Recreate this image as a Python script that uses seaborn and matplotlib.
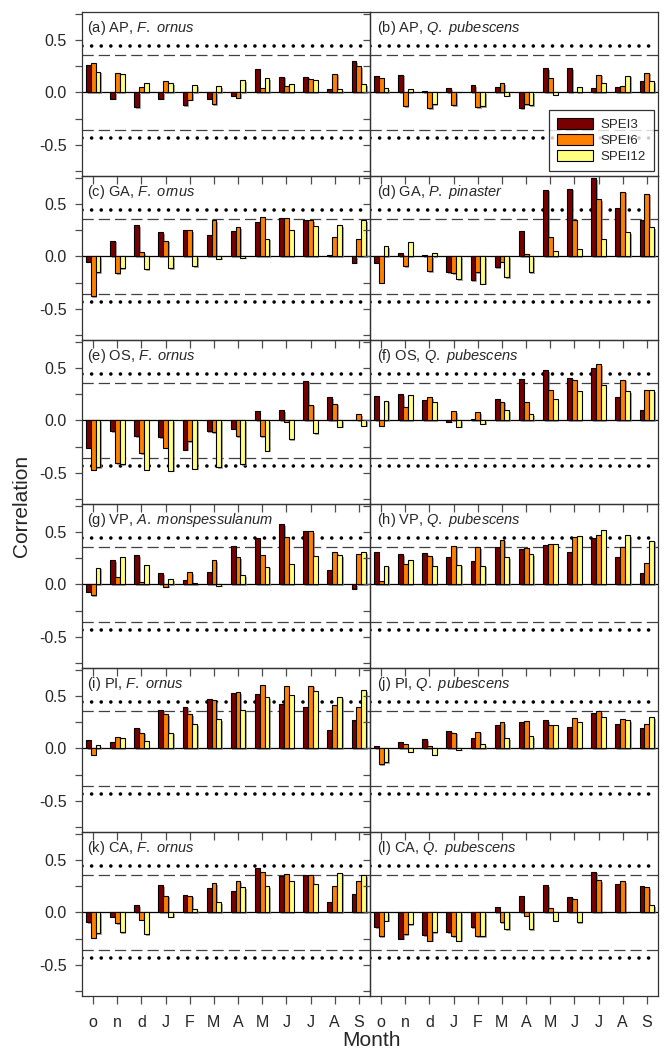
import matplotlib
matplotlib.use('Agg')
import matplotlib.pyplot as plt
import matplotlib.patheffects as pe
from matplotlib.patches import Patch
import seaborn as sns
import pandas as pd

# month order of the hydrological year, previous oct -> current sep
months = ['o', 'n', 'd', 'J', 'F', 'M', 'A', 'M', 'J', 'J', 'A', 'S']
month_keys = ['Oct', 'Nov', 'Dec', 'Jan', 'Feb', 'Mar', 'Apr', 'May', 'Jun', 'Jul', 'Aug', 'Sep']
indices = ['SPEI3', 'SPEI6', 'SPEI12']
colours = ['#7a0000', '#ff8000', '#ffff80']

sites = ['AP', 'AP', 'GA', 'GA', 'OS', 'OS', 'VP', 'VP', 'PI', 'PI', 'CA', 'CA']
species = ['F. ornus', 'Q. pubescens', 'F. ornus', 'P. pinaster', 'F. ornus', 'Q. pubescens',
           'A. monspessulanum', 'Q. pubescens', 'F. ornus', 'Q. pubescens', 'F. ornus', 'Q. pubescens']

a_spei3 = [0.26, -0.06, -0.14, -0.06, -0.12, -0.06, -0.03, 0.22, 0.15, 0.15, 0.03, 0.30]
a_spei6 = [0.28, 0.19, 0.05, 0.11, -0.07, -0.11, -0.05, 0.04, 0.06, 0.13, 0.18, 0.25]
a_spei12 = [0.20, 0.18, 0.09, 0.09, 0.07, 0.06, 0.12, 0.14, 0.08, 0.12, 0.03, 0.08]

b_spei3 = [0.16, 0.17, 0.01, 0.04, 0.07, 0.05, -0.15, 0.23, 0.23, 0.04, 0.05, 0.11]
b_spei6 = [0.14, -0.13, -0.15, -0.12, -0.14, 0.09, -0.11, 0.14, 0.00, 0.17, 0.06, 0.19]
b_spei12 = [0.04, 0.03, -0.11, 0.00, -0.13, -0.03, -0.12, -0.02, 0.05, 0.09, 0.16, 0.11]

c_spei3 = [-0.05, 0.15, 0.30, 0.23, 0.25, 0.21, 0.24, 0.33, 0.37, 0.35, 0.01, -0.06]
c_spei6 = [-0.38, -0.16, 0.04, 0.15, 0.25, 0.35, 0.28, 0.38, 0.37, 0.35, 0.19, 0.17]
c_spei12 = [-0.15, -0.11, -0.12, -0.11, -0.09, -0.02, -0.01, 0.17, 0.25, 0.29, 0.30, 0.35]

d_spei3 = [-0.06, 0.03, 0.01, -0.15, -0.23, -0.10, 0.24, 0.64, 0.65, 0.75, 0.46, 0.35]
d_spei6 = [-0.25, -0.09, -0.14, -0.16, -0.15, -0.05, 0.02, 0.19, 0.35, 0.55, 0.62, 0.60]
d_spei12 = [0.10, 0.14, 0.03, -0.22, -0.26, -0.20, -0.15, 0.05, 0.07, 0.17, 0.23, 0.28]

e_spei3 = [-0.26, -0.10, -0.15, -0.16, -0.28, -0.10, -0.08, 0.09, 0.10, 0.38, 0.22, 0.00]
e_spei6 = [-0.47, -0.41, -0.31, -0.26, -0.20, -0.11, -0.15, -0.15, -0.01, 0.15, 0.16, 0.06]
e_spei12 = [-0.45, -0.42, -0.47, -0.48, -0.46, -0.45, -0.42, -0.29, -0.18, -0.12, -0.06, -0.05]

f_spei3 = [0.23, 0.25, 0.20, -0.01, 0.01, 0.21, 0.40, 0.48, 0.41, 0.50, 0.22, 0.10]
f_spei6 = [-0.05, 0.13, 0.22, 0.09, 0.08, 0.18, 0.18, 0.29, 0.39, 0.54, 0.39, 0.29]
f_spei12 = [0.19, 0.24, 0.18, -0.06, -0.03, 0.10, 0.06, 0.21, 0.28, 0.34, 0.28, 0.29]

g_spei3 = [-0.07, 0.23, 0.28, 0.11, 0.04, 0.12, 0.37, 0.44, 0.58, 0.51, 0.14, -0.04]
g_spei6 = [-0.10, 0.07, 0.02, -0.02, 0.12, 0.23, 0.26, 0.28, 0.45, 0.51, 0.31, 0.29]
g_spei12 = [0.16, 0.26, 0.19, 0.05, 0.01, -0.01, 0.09, 0.17, 0.20, 0.27, 0.28, 0.31]

h_spei3 = [0.31, 0.29, 0.30, 0.26, 0.22, 0.36, 0.34, 0.38, 0.31, 0.44, 0.26, 0.11]
h_spei6 = [0.03, 0.20, 0.27, 0.37, 0.36, 0.43, 0.35, 0.39, 0.45, 0.47, 0.36, 0.21]
h_spei12 = [0.18, 0.23, 0.18, 0.19, 0.18, 0.26, 0.29, 0.39, 0.46, 0.52, 0.47, 0.42]

i_spei3 = [0.08, 0.06, 0.20, 0.37, 0.40, 0.47, 0.53, 0.52, 0.43, 0.40, 0.18, 0.27]
i_spei6 = [-0.06, 0.11, 0.15, 0.33, 0.33, 0.46, 0.54, 0.61, 0.60, 0.60, 0.42, 0.40]
i_spei12 = [0.03, 0.10, 0.07, 0.15, 0.23, 0.28, 0.37, 0.49, 0.51, 0.55, 0.49, 0.56]

j_spei3 = [0.02, 0.06, 0.09, 0.17, 0.10, 0.22, 0.25, 0.27, 0.21, 0.34, 0.23, 0.20]
j_spei6 = [-0.15, 0.04, 0.02, 0.15, 0.16, 0.25, 0.26, 0.22, 0.29, 0.36, 0.28, 0.23]
j_spei12 = [-0.13, -0.03, -0.06, -0.01, 0.04, 0.10, 0.12, 0.22, 0.25, 0.30, 0.27, 0.30]

k_spei3 = [-0.09, -0.04, 0.07, 0.26, 0.17, 0.23, 0.21, 0.43, 0.35, 0.36, 0.10, 0.18]
k_spei6 = [-0.24, -0.10, -0.07, 0.16, 0.16, 0.28, 0.30, 0.39, 0.37, 0.36, 0.25, 0.30]
k_spei12 = [-0.20, -0.19, -0.21, -0.04, 0.03, 0.10, 0.24, 0.25, 0.30, 0.27, 0.38, 0.36]

l_spei3 = [-0.14, -0.25, -0.22, -0.19, -0.14, 0.05, 0.16, 0.26, 0.15, 0.39, 0.27, 0.25]
l_spei6 = [-0.23, -0.21, -0.27, -0.23, -0.23, -0.09, -0.03, 0.04, 0.13, 0.31, 0.30, 0.24]
l_spei12 = [-0.08, -0.11, -0.19, -0.27, -0.23, -0.16, -0.16, -0.08, -0.09, 0.00, 0.00, 0.07]

panel_data = [
    (a_spei3, a_spei6, a_spei12), (b_spei3, b_spei6, b_spei12),
    (c_spei3, c_spei6, c_spei12), (d_spei3, d_spei6, d_spei12),
    (e_spei3, e_spei6, e_spei12), (f_spei3, f_spei6, f_spei12),
    (g_spei3, g_spei6, g_spei12), (h_spei3, h_spei6, h_spei12),
    (i_spei3, i_spei6, i_spei12), (j_spei3, j_spei6, j_spei12),
    (k_spei3, k_spei6, k_spei12), (l_spei3, l_spei6, l_spei12),
]

# significance thresholds
sig_95 = 0.36
sig_99 = 0.44

sns.set_style('ticks')
plt.rcParams['font.family'] = ['Liberation Sans', 'DejaVu Sans']
plt.rcParams['mathtext.fontset'] = 'custom'
plt.rcParams['mathtext.rm'] = 'Liberation Sans'
plt.rcParams['mathtext.it'] = 'Liberation Sans:italic'
plt.rcParams['axes.unicode_minus'] = False

fig, axes = plt.subplots(6, 2, figsize=(6.65, 10.55), dpi=100, sharex=True, sharey=True)
fig.subplots_adjust(left=0.1233, right=0.9895, top=0.9886, bottom=0.0559, hspace=0, wspace=0)

shadow = [pe.SimplePatchShadow(offset=(1.2, -1.2), shadow_rgbFace='0.5', alpha=0.7), pe.Normal()]

for n, ax in enumerate(axes.flat):
    s3, s6, s12 = panel_data[n]
    df = pd.DataFrame({
        'month': month_keys * 3,
        'index': [indices[0]] * 12 + [indices[1]] * 12 + [indices[2]] * 12,
        'value': s3 + s6 + s12,
    })
    ax.patch.set_visible(False)
    ax.axhline(0, color='black', lw=0.9, zorder=1)
    for s in (sig_95, -sig_95):
        ax.axhline(s, color='0.25', lw=0.9, ls=(0, (9, 4)), zorder=1)
    for s in (sig_99, -sig_99):
        ax.axhline(s, color='black', lw=2.6, ls=(0, (0.01, 2.65)), dash_capstyle='round', zorder=1)
    sns.barplot(data=df, x='month', y='value', hue='index', order=month_keys, hue_order=indices,
                palette=colours, saturation=1, width=0.6, edgecolor='black', linewidth=0.8,
                legend=False, ax=ax, zorder=3)
    for p in ax.patches:
        p.set_path_effects(shadow)

    letter = 'abcdefghijkl'[n]
    sp = species[n].replace(' ', r'\ ')
    ax.text(0.018 if n % 2 == 0 else 0.025, 0.955, '(%s) %s, $\\it{%s}$' % (letter, sites[n], sp),
            transform=ax.transAxes, ha='left', va='top', fontsize=10.5)

    ax.set_ylim(-0.8, 0.77)
    ax.set_xlim(-0.46, 11.46)
    ax.set_yticks([-0.5, 0.0, 0.5])
    ax.set_yticks([-0.75, -0.25, 0.25, 0.75], minor=True)
    ax.set_yticklabels(['-0.5', '0.0', '0.5'])
    ax.tick_params(axis='y', which='both', direction='out', length=5, width=0.9, color='0.3',
                   labelsize=11.5, pad=6)
    ax.tick_params(axis='x', direction='out', length=6, width=0.9, color='0.3',
                   labelsize=11.5, pad=8)
    ax.set_xlabel('')
    ax.set_ylabel('')
    for sp_ in ax.spines.values():
        sp_.set_visible(True)
        sp_.set_color('0.2')
        sp_.set_linewidth(0.9)

for ax in axes[-1]:
    ax.set_xticks(range(12))
    ax.set_xticklabels(months)

# legend in panel (b)
handles = [Patch(facecolor=c, edgecolor='black', linewidth=0.8) for c in colours]
leg = axes[0, 1].legend(handles, indices, loc='lower right', bbox_to_anchor=(0.985, 0.03),
                        fontsize=9.5, frameon=True, fancybox=False, edgecolor='black',
                        handlelength=2.7, handleheight=0.85, handletextpad=0.6,
                        borderpad=0.6, labelspacing=0.25, borderaxespad=0)
leg.get_frame().set_linewidth(0.9)

fig.text(0.033, 0.52, 'Correlation', rotation=90, ha='center', va='center', fontsize=15)
fig.text(0.558, 0.014, 'Month', ha='center', va='center', fontsize=15)

fig.savefig('out.png', dpi=100)
